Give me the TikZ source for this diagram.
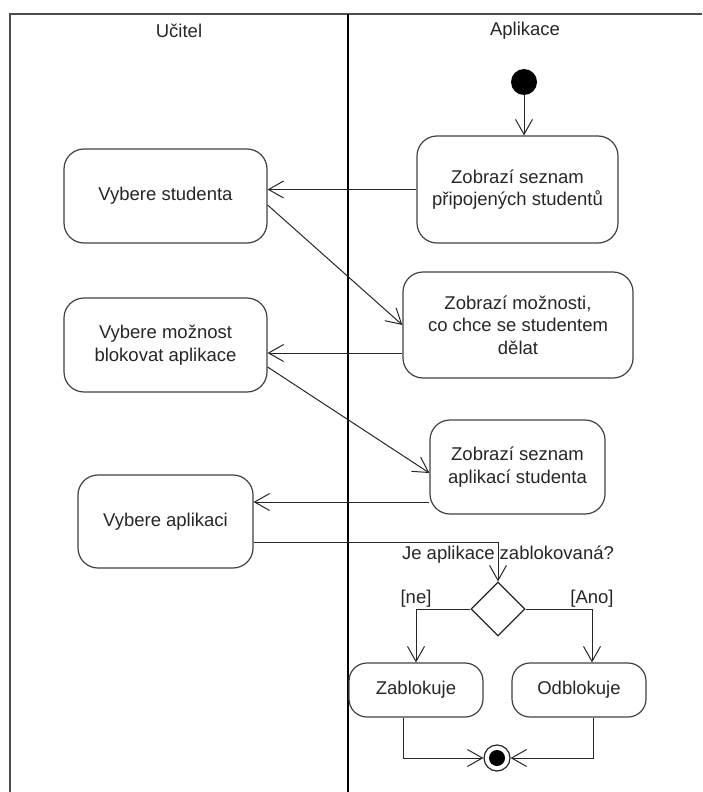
\documentclass[tikz,border=0pt]{standalone}
\usepackage{fontspec}
\setmainfont{Liberation Sans}
\usetikzlibrary{shapes,shapes.geometric}
\usetikzlibrary{positioning,arrows.meta}

\begin{document}
\begin{tikzpicture}[x=1pt,y=-1pt,
  every node/.style={font=\fontsize{18.5}{22.5}\selectfont,text=black!85},
  act/.style={draw=black!75,line width=1.2pt,rounded corners=20pt,align=center,inner sep=0pt},
  flow/.style={draw=black!85,line width=1pt,-{Straight Barb[length=15pt,width=17pt,line width=1pt]}},
  lane/.style={draw=black!70,line width=1.5pt}]
\useasboundingbox (0,0) rectangle (702,792);

% swimlanes
\draw[lane] (10,792) -- (10,14) -- (702,14);
\draw[line width=2pt] (348,14) -- (348,792);
\node (ucitel) at (179,31) {Učitel};
\node (aplikace) at (525,31) {Aplikace};

% Aplikace
\node[circle,fill=black,minimum size=26pt,inner sep=0pt] (start) at (524,82) {};
\node[act,minimum width=201pt,minimum height=107pt] (zobrazi1) at (517.5,189.5) {Zobrazí seznam\\připojených studentů};
\node[act,minimum width=230pt,minimum height=106pt] (zobrazi2) at (518,325) {Zobrazí možnosti,\\co chce se studentem\\dělat};
\node[act,minimum width=175pt,minimum height=94pt] (zobrazi3) at (517.5,467) {Zobrazí seznam\\aplikací studenta};
\node[diamond,draw=black!85,line width=1.2pt,minimum width=54pt,minimum height=54pt,inner sep=0pt] (dec) at (498,609) {};
\node[act,rounded corners=18pt,minimum width=134pt,minimum height=54pt] (zab) at (416,690) {Zablokuje};
\node[act,rounded corners=18pt,minimum width=134pt,minimum height=54pt] (odb) at (579,690) {Odblokuje};
\node[circle,draw=black!85,line width=1.2pt,minimum size=26pt,inner sep=0pt,
  path picture={\fill[black] (path picture bounding box.center) circle (8pt);}] (konec) at (497,758) {};

% Ucitel
\node[act,minimum width=203pt,minimum height=94pt] (vybere1) at (165.5,196) {Vybere studenta};
\node[act,minimum width=203pt,minimum height=94pt] (vybere2) at (165.5,345) {Vybere možnost\\blokovat aplikace};
\node[act,minimum width=175pt,minimum height=93pt] (vybere3) at (165.5,521.5) {Vybere aplikaci};

% flows
\coordinate (a1) at ([yshift=-9pt]vybere1.east);
\coordinate (a2) at ([yshift=-28pt]zobrazi2.west);
\coordinate (a3) at ([yshift=-22pt]vybere2.east);
\coordinate (a4) at ([yshift=-35pt]zobrazi3.west);
\coordinate (a5) at ([yshift=-20.5pt]vybere3.east);
\coordinate (odbin) at ([xshift=13pt]odb.north);

\draw[flow] (start) -- (start |- zobrazi1.north);
\draw[flow] (zobrazi1.west) -- (zobrazi1.west -| vybere1.east);
\draw[flow] (a1) -- (zobrazi2.west);
\draw[flow] (a2) -- (a2 -| vybere2.east);
\draw[flow] (a3) -- ([yshift=-6pt]zobrazi3.west);
\draw[flow] (a4) -- (a4 -| vybere3.east);
\draw[flow] (a5) -| (dec.north);
\node (otazka) at (508,555) {Je aplikace zablokovaná?};

\draw[flow] (dec.west) -| (zab.north);
\draw[flow] (dec.east) -| (odbin);
\node[anchor=south,inner sep=1pt] (ne) at (zab.north |- dec.west) {[ne]};
\node[anchor=south,inner sep=1pt] (ano) at (odbin |- dec.east) {[Ano]};

\draw[flow] ([xshift=-13pt]zab.south) |- (konec.west);
\draw[flow] ([xshift=14pt]odb.south) |- (konec.east);
\end{tikzpicture}
\end{document}
